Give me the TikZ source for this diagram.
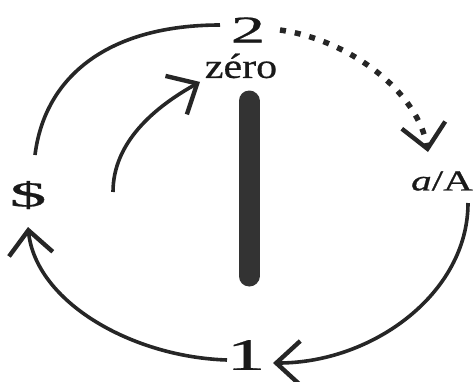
\documentclass[tikz,border=0pt]{standalone}
\usepackage{fontspec}
\setmainfont{Liberation Serif}[FakeBold=0.6]
\usepackage{graphicx}
\usetikzlibrary{
	arrows.meta,
	positioning
}

\begin{document}
\begin{tikzpicture}[
				x=1pt, y=-1pt,
				lbl/.style={
					inner sep=0pt, outer sep=0pt, text=black!90
				},
				arc/.style={
					line width=3.6pt, black!85,
					-{Straight Barb[length=24pt, width=44pt, line width=4.4pt]}
				},
				plainarc/.style={
					line width=3.6pt, black!85
				},
				dotarc/.style={
					arc, line width=5.5pt, dash pattern=on 6pt off 9pt
				}
				]
				
				% frame
				\useasboundingbox (0,0) rectangle (474,381);
				
				% bar
				\draw[line width=21pt, line cap=round, black!80] (249,101) -- (249,276);
				
				% 2
				\node[lbl, font=\fontsize{38}{38}\selectfont] (two) at (248,30) {\scalebox{1.8}[1]{2}};
				
				% zero
				\node[lbl, font=\fontsize{35}{35}\selectfont, below=11pt of two, xshift=-7pt] (zero) {\scalebox{1.2}[1]{zéro}};
				
				% dollar
				\node[lbl, font=\fontsize{35}{35}\selectfont] (dollar) at (28,195) {\scalebox{2.1}[1]{\$}};
				
				% a/A
				\node[lbl, font=\fontsize{29}{29}\selectfont] (aA) at (442,181) {\scalebox{1.42}[1]{\textit{a}/A}};
				
				% 1
				\node[lbl, font=\fontsize{45}{45}\selectfont] (one) at (246,355) {\scalebox{1.7}[1]{1}};
				
				% start of inner arc
				\coordinate (inner) at (113,192);
				
				% arcs
				\draw[plainarc] ([shift={(-28,-5)}]two.center) .. controls +(-110,0) and +(10,-80) .. ([shift={(7,-40)}]dollar.center);
				\draw[arc] ([shift={(-19,5)}]one.center) .. controls +(-95,-3) and +(8,75) .. ([shift={(0,32)}]dollar.center);
				\draw[arc] ([shift={(26,22)}]aA.center) .. controls +(0,90) and +(100,0) .. ([shift={(27,8)}]one.center);
				\draw[dotarc] ([shift={(32,0)}]two.center) .. controls +(70,10) and +(-10,-60) .. ([shift={(-14,-29)}]aA.center);
				\draw[arc] (inner) .. controls +(0,-50) and +(-45,25) .. ([shift={(-41,16)}]zero.center);
			\end{tikzpicture}
\end{document}
